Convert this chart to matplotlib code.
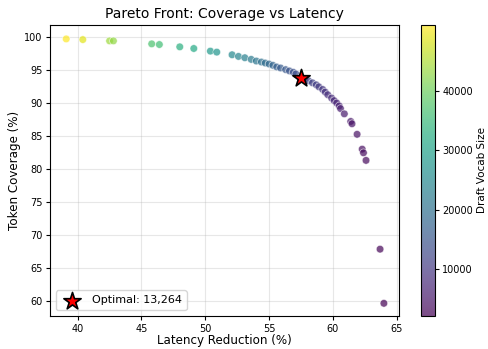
import matplotlib

matplotlib.use("Agg")
import matplotlib.pyplot as plt

# Latency reduction (%), token coverage (%), draft vocab size per candidate
latency = [39.1, 40.4, 42.5, 42.8, 45.8, 46.4, 48.0, 49.1, 50.4, 50.9,
           52.1, 52.6, 53.1, 53.6, 54.0, 54.4, 54.7, 55.0, 55.3, 55.6,
           55.9, 56.3, 56.6, 56.9, 57.1, 57.5, 57.8, 58.1, 58.4, 58.7,
           58.9, 59.2, 59.4, 59.6, 59.9, 60.1, 60.3, 60.5, 60.6, 60.9,
           61.4, 61.5, 61.9, 62.3, 62.4, 62.6, 63.7, 64.0]
coverage = [99.65, 99.55, 99.35, 99.35, 98.9, 98.8, 98.45, 98.2, 97.8, 97.65,
            97.25, 97.0, 96.8, 96.55, 96.3, 96.15, 96.0, 95.85, 95.65, 95.4,
            95.25, 95.0, 94.8, 94.6, 94.35, 93.8, 93.6, 93.3, 93.0, 92.7,
            92.4, 92.0, 91.6, 91.2, 90.7, 90.3, 89.95, 89.5, 89.1, 88.3,
            87.15, 86.8, 85.2, 82.95, 82.4, 81.25, 67.8, 59.6]
vocab = [51200, 49000, 44000, 43000, 37000, 36000, 33000, 31500, 28500, 27500,
         25000, 24000, 23000, 22000, 21000, 20000, 19200, 18400, 17600, 16800,
         16000, 15300, 14700, 14100, 13700, 13264, 12800, 12200, 11600, 11000,
         10400, 9800, 9200, 8600, 8000, 7500, 7000, 6500, 6000, 5500,
         5000, 4700, 4300, 3800, 3500, 3200, 2500, 2048]

OPT_VOCAB = 13264
OPT_LATENCY = 57.5
OPT_COVERAGE = 93.75

fig = plt.figure(figsize=(4.88, 3.49), dpi=100)
ax = fig.add_axes([0.1025, 0.0946, 0.715, 0.834])
cax = fig.add_axes([0.862, 0.0946, 0.030, 0.834])

sc = ax.scatter(latency, coverage, c=vocab, cmap="viridis", s=30, alpha=0.7,
                edgecolors="white", linewidths=0.5, vmin=2048, vmax=51200,
                zorder=3)
ax.scatter([OPT_LATENCY], [OPT_COVERAGE], marker="*", s=170, color="red",
           edgecolors="black", linewidths=1.2, zorder=5,
           label=f"Optimal: {OPT_VOCAB:,}")

ax.set_xlim(37.83, 65.18)
ax.set_ylim(57.68, 101.77)
ax.set_xticks([40, 45, 50, 55, 60, 65])
ax.set_yticks([60, 65, 70, 75, 80, 85, 90, 95, 100])
ax.tick_params(labelsize=7, length=3, pad=2.5)
ax.grid(True, alpha=0.3)
ax.set_xlabel("Latency Reduction (%)", fontsize=8.6, labelpad=0.5)
ax.set_ylabel("Token Coverage (%)", fontsize=8.6, labelpad=2)
ax.set_title("Pareto Front: Coverage vs Latency", fontsize=10, pad=5)
ax.legend(loc="lower left", fontsize=8, handletextpad=0.8, borderpad=0.45)

cb = fig.colorbar(sc, cax=cax)
cb.set_ticks([10000, 20000, 30000, 40000])
cb.ax.tick_params(labelsize=7, length=3, pad=2)
cb.set_label("Draft Vocab Size", fontsize=7.5, labelpad=3)

fig.savefig("out.png", dpi=100)
